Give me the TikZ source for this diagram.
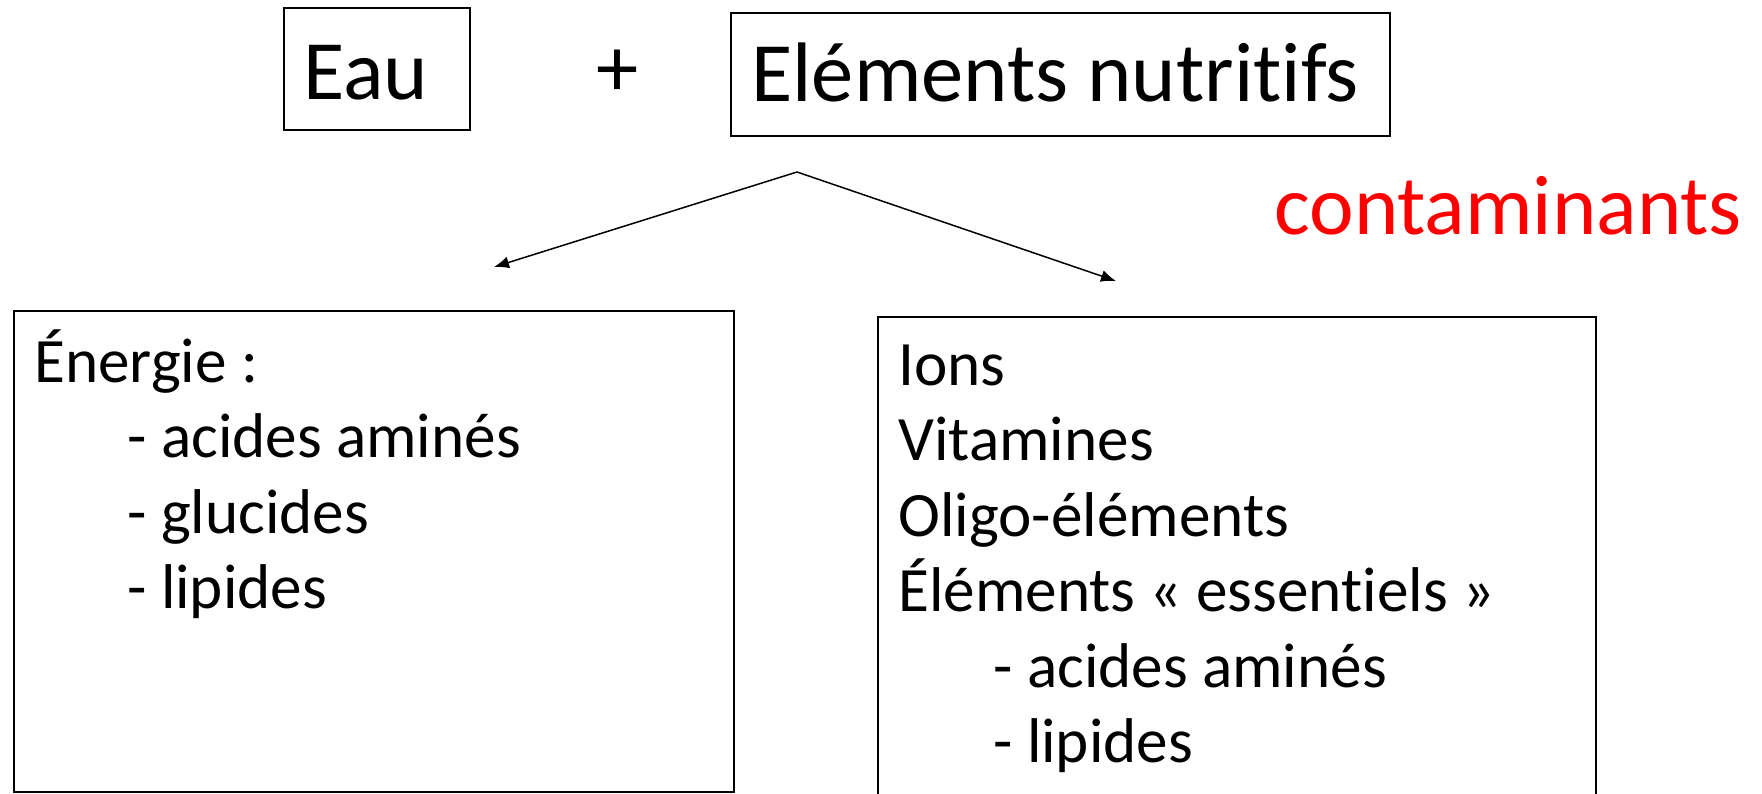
\documentclass[tikz,border=0pt]{standalone}
\usepackage{fontspec}
\setmainfont{Carlito}[Ligatures=NoCommon]
\usetikzlibrary{arrows.meta}

\begin{document}
\begin{tikzpicture}[x=0.5pt,y=-0.5pt,>={Latex[length=7.5pt,width=6pt]}]
\tikzstyle{frame}=[draw,line width=1pt,inner sep=0pt,anchor=north west]
\tikzstyle{big}=[inner sep=0pt,font=\fontsize{42.25pt}{50pt}\selectfont]
\tikzstyle{list}=[anchor=base west,inner sep=0pt,align=flush left,text width=340pt,font=\fontsize{31.6pt}{37.75pt}\selectfont]
\path[use as bounding box,clip] (0,0) rectangle (1762,793);
% top row
\node[frame,minimum width=93pt,minimum height=61pt] (eaubox) at (283,7) {};
\node[big,anchor=base west] (eau) at (303,99) {Eau};
\node[big] (plus) at (618,73) {+};
\node[frame,minimum width=329.5pt,minimum height=61.5pt] (nutbox) at (730,12) {};
\node[big,anchor=base west] (nut) at (751,101) {Eléments nutritifs};
\node[big,anchor=base west,text=red] (cont) at (1274,234) {contaminants};
% split
\coordinate (split) at (797,172);
\coordinate (lefttip) at (494,267);
\coordinate (righttip) at (1116,281);
\draw[line width=.75pt,->] (split)--(lefttip);
\draw[line width=.75pt,->] (split)--(righttip);
% lower boxes
\node[frame,minimum width=360pt,minimum height=240.5pt] (energybox) at (13,310) {};
\node[list] (energy) at (34,382) {Énergie :\\
\hspace*{46.5pt}- acides aminés\\
\hspace*{46.5pt}- glucides\\
\hspace*{46.5pt}- lipides};
\node[frame,minimum width=359pt,minimum height=247pt] (ionbox) at (877,316) {};
\node[list] (ions) at (898,385) {Ions\\
Vitamines\\
Oligo-éléments\\
Éléments « essentiels »\\
\hspace*{47.5pt}- acides aminés\\
\hspace*{47.5pt}- lipides};
\end{tikzpicture}
\end{document}
